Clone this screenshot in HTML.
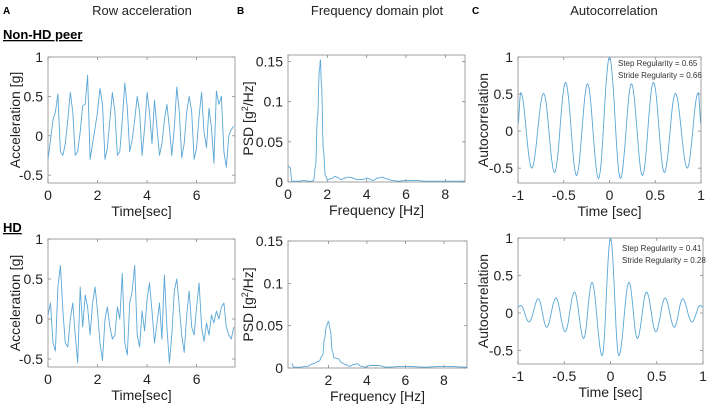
<!DOCTYPE html>
<html><head><meta charset="utf-8">
<style>
body{margin:0;background:#fff;}
svg{display:block;font-family:"Liberation Sans",Arial,sans-serif;}
</style></head>
<body>
<svg id="fig" width="708" height="404" viewBox="0 0 708 404">
<g>
<text x="3" y="14" font-size="10" font-weight="bold">A</text>
<text x="142" y="15" font-size="13" text-anchor="middle" fill="#222">Row acceleration</text>
<text x="237" y="14" font-size="10" font-weight="bold">B</text>
<text x="377" y="15" font-size="13" text-anchor="middle" fill="#222">Frequency domain plot</text>
<text x="472" y="14" font-size="10" font-weight="bold">C</text>
<text x="614" y="15" font-size="13" text-anchor="middle" fill="#222">Autocorrelation</text>
<text x="3" y="39" font-size="13" font-weight="bold" text-decoration="underline">Non-HD peer</text>
<text x="3" y="232" font-size="13" font-weight="bold" text-decoration="underline">HD</text>
</g>
</svg>
<script>
// ---- data ----
const accTopT = [0,0.1,0.2,0.3,0.4,0.5,0.6,0.7,0.8,0.9,1.0,1.1,1.2,1.3,1.4,1.5,1.6,1.7,1.8,1.9,2.0,2.1,2.2,2.3,2.4,2.5,2.6,2.7,2.8,2.9,3.0,3.1,3.2,3.3,3.4,3.5,3.6,3.7,3.8,3.9,4.0,4.1,4.2,4.3,4.4,4.5,4.6,4.7,4.8,4.9,5.0,5.1,5.2,5.3,5.4,5.5,5.6,5.7,5.8,5.9,6.0,6.1,6.2,6.3,6.4,6.5,6.6,6.7,6.8,6.9,7.0,7.1,7.2,7.3,7.4,7.5];
const accTopV = [-0.3,-0.05,0.2,0.3,0.53,-0.2,-0.25,-0.1,0.2,0.55,0.3,-0.25,-0.2,0.05,0.38,0.4,0.77,-0.3,-0.1,0.1,0.3,0.6,0.4,-0.3,-0.15,0.2,0.55,0.3,-0.25,-0.2,0.2,0.67,0.35,-0.2,-0.05,0.2,0.5,0.3,-0.25,0.1,0.55,0.3,-0.1,0.45,0.1,-0.25,-0.1,0.2,0.4,0.1,-0.25,0.1,0.62,0.3,-0.28,-0.1,0.3,0.5,0.3,-0.3,-0.15,0.25,0.55,0.05,-0.15,0.35,0.1,-0.35,0.57,0.4,0.5,-0.2,-0.4,0.0,0.08,0.12];
const accBotT = accTopT;
const accBotV = [0.05,0.2,-0.3,-0.4,0.4,0.67,0.1,-0.3,-0.35,0.0,0.2,-0.2,-0.55,0.4,-0.1,0.3,0.15,-0.2,0.2,0.4,0.1,-0.3,-0.52,0.0,0.15,-0.1,-0.25,-0.2,0.15,0.0,0.57,-0.3,-0.45,0.2,0.35,0.67,-0.2,-0.35,0.1,-0.15,0.25,0.45,0.1,-0.3,-0.05,0.2,-0.25,0.55,-0.1,-0.55,-0.2,0.35,0.5,0.15,-0.2,-0.42,0.05,0.35,-0.1,-0.2,0.15,0.45,-0.1,-0.28,-0.05,-0.2,0.05,-0.05,0.1,0.0,0.15,0.2,-0.1,-0.2,-0.25,-0.1];
const psdTopF = [0,0.1,0.2,0.4,0.6,0.8,1.0,1.2,1.3,1.4,1.5,1.6,1.65,1.7,1.8,1.9,2.0,2.2,2.4,2.5,2.7,2.9,3.1,3.3,3.5,3.8,4.0,4.1,4.3,4.6,4.8,5.0,5.3,5.6,6.0,6.5,7.0,7.5,8.0,8.5,9.0];
const psdTopV = [0.02,0.018,0.001,0.001,0.001,0.002,0.001,0.001,0.002,0.02,0.08,0.14,0.152,0.12,0.04,0.008,0.003,0.004,0.007,0.006,0.003,0.005,0.006,0.005,0.003,0.003,0.005,0.004,0.002,0.005,0.006,0.004,0.002,0.001,0.002,0.002,0.001,0.001,0.001,0.001,0.001];
const psdBotF = [0.1,0.2,0.5,0.9,1.2,1.5,1.7,1.8,1.9,2.0,2.1,2.2,2.3,2.5,2.7,2.9,3.1,3.3,3.5,3.7,3.9,4.2,4.6,5.0,6.0,7.0,8.0,9.2];
const psdBotV = [0.005,0.001,0.001,0.002,0.005,0.008,0.015,0.035,0.05,0.055,0.045,0.02,0.012,0.011,0.006,0.004,0.002,0.004,0.005,0.002,0.001,0.003,0.003,0.001,0.002,0.001,0.002,0.001];
const acTopLag = [-1,-0.97,-0.85,-0.72,-0.6,-0.48,-0.36,-0.24,-0.12,0,0.12,0.24,0.36,0.48,0.6,0.72,0.85,0.97,1];
const acTopV = [0.1,0.52,-0.5,0.51,-0.56,0.66,-0.6,0.64,-0.64,1,-0.64,0.64,-0.6,0.66,-0.56,0.51,-0.5,0.52,0.1];
const acBotLag = [-1,-0.97,-0.88,-0.78,-0.69,-0.59,-0.49,-0.39,-0.29,-0.2,-0.09,0,0.09,0.2,0.29,0.39,0.49,0.59,0.69,0.78,0.88,0.97,1];
const acBotV = [0.08,0.1,-0.12,0.19,-0.19,0.2,-0.25,0.28,-0.34,0.41,-0.57,1,-0.57,0.41,-0.34,0.28,-0.25,0.2,-0.19,0.19,-0.12,0.1,0.08];
const accYTicks = [-0.5,0,0.5,1];
const accYLabels = ["-0.5","0","0.5","1"];
const accXTicks = [0,2,4,6];
const psdYTicks = [0,0.05,0.1,0.15];
const psdYLabels = ["0","0.05","0.1","0.15"];
const psdTopXTicks = [0,2,4,6,8];
const psdBotXTicks = [2,4,6,8];
const acXTicks = [-1,-0.5,0,0.5,1];
const acXLabels = ["-1","-0.5","0","0.5","1"];

const NS='http://www.w3.org/2000/svg';
const svg=document.getElementById('fig');
function mk(tag,attrs,parent){const e=document.createElementNS(NS,tag);for(const k in attrs)e.setAttribute(k,attrs[k]);(parent||svg).appendChild(e);return e;}

function panel(o){
  const g=mk('g',{});
  
  
  const sx=v=>o.x0+(v-o.xmin)/(o.xmax-o.xmin)*(o.x1-o.x0);
  const sy=v=>o.y1-(v-o.ymin)/(o.ymax-o.ymin)*(o.y1-o.y0);
  const box=mk('rect',{x:o.x0,y:o.y0,width:o.x1-o.x0,height:o.y1-o.y0,fill:'#fff',stroke:'#8a8a8a','stroke-width':0.8},g);
  
  
  o.yt.forEach((v,i)=>{
    const y=sy(v);
    mk('line',{x1:o.x0,x2:o.x0+3,y1:y,y2:y,stroke:'#8a8a8a','stroke-width':0.8},g);
    mk('line',{x1:o.x1,x2:o.x1-3,y1:y,y2:y,stroke:'#8a8a8a','stroke-width':0.8},g);
    const t=mk('text',{x:o.x0-5,y:y+5,'font-size':14,'text-anchor':'end',fill:'#222'},g);
    t.textContent=o.yl[i];
    
    
  });
  o.xt.forEach((v,i)=>{
    const x=sx(v);
    mk('line',{x1:x,x2:x,y1:o.y1,y2:o.y1-3,stroke:'#8a8a8a','stroke-width':0.8},g);
    mk('line',{x1:x,x2:x,y1:o.y0,y2:o.y0+3,stroke:'#8a8a8a','stroke-width':0.8},g);
    const t=mk('text',{x:x,y:o.y1+17,'font-size':14,'text-anchor':'middle',fill:'#222'},g);
    t.textContent=o.xl?o.xl[i]:String(v);
    
    
  });
  const xl=mk('text',{x:(o.x0+o.x1)/2,y:o.y1+33,'font-size':14,'text-anchor':'middle',fill:'#222'},g);
  xl.textContent=o.xlabel;
  
  
  const yl=mk('text',{x:0,y:0,'font-size':o.ylfs||14,'text-anchor':'middle',fill:'#222',transform:`translate(${o.ylx},${(o.y0+o.y1)/2}) rotate(-90)`},g);
  yl.innerHTML=o.ylabel;
  
  
  // series
  let pts=[];
  if(o.smooth){
    for(let i=0;i<o.xs.length-1;i++){
      const xa=o.xs[i],xb=o.xs[i+1],va=o.ys[i],vb=o.ys[i+1];
      for(let k=0;k<12;k++){const f=k/12;const w=(1-Math.cos(Math.PI*f))/2;pts.push([sx(xa+(xb-xa)*f),sy(va+(vb-va)*w)]);}
    }
    pts.push([sx(o.xs[o.xs.length-1]),sy(o.ys[o.ys.length-1])]);
  } else pts=o.xs.map((x,i)=>[sx(x),sy(o.ys[i])]);
  const p=mk('polyline',{points:pts.map(q=>q[0].toFixed(1)+','+q[1].toFixed(1)).join(' '),fill:'none',stroke:'#5aa7d6','stroke-width':0.9,'stroke-linejoin':'round'},g);
  
  
  if(o.notes){o.notes.forEach((n,i)=>{
    const t=mk('text',{x:o.nx,y:o.ny+i*12,'font-size':8,fill:'#333'},g);t.textContent=n;
    
    
  });}
}

panel({name:'acc-non-hd',x0:48,x1:235,y0:57,y1:183,xmin:0,xmax:7.55,ymin:-0.6,ymax:1,xs:accTopT,ys:accTopV,yt:accYTicks,yl:accYLabels,xt:accXTicks,xlabel:'Time[sec]',ylabel:'Acceleration [g]',ylx:20});
panel({name:'psd-non-hd',x0:288,x1:465,y0:55,y1:182,xmin:0,xmax:9,ymin:0,ymax:0.158,xs:psdTopF,ys:psdTopV,yt:psdYTicks,yl:psdYLabels,xt:psdTopXTicks,xlabel:'Frequency [Hz]',ylabel:'PSD [g<tspan dy="-5" font-size="9">2</tspan><tspan dy="5">/Hz]</tspan>',ylx:253,smooth:true});
panel({name:'autocorr-non-hd',x0:518,x1:701,y0:57,y1:183,xmin:-1,xmax:1,ymin:-0.7,ymax:1,xs:acTopLag,ys:acTopV,yt:accYTicks,yl:accYLabels,xt:acXTicks,xl:acXLabels,xlabel:'Time [sec]',ylabel:'Autocorrelation',ylx:488,smooth:true,notes:['Step Regularity = 0.65','Stride Regularity = 0.66'],nx:618,ny:66});
panel({name:'acc-hd',x0:48,x1:235,y0:239,y1:367,xmin:0,xmax:7.55,ymin:-0.6,ymax:1,xs:accBotT,ys:accBotV,yt:accYTicks,yl:accYLabels,xt:accXTicks,xlabel:'Time[sec]',ylabel:'Acceleration [g]',ylx:20});
panel({name:'psd-hd',x0:288,x1:467,y0:241,y1:368,xmin:-0.1,xmax:9.2,ymin:0,ymax:0.15,xs:psdBotF,ys:psdBotV,yt:psdYTicks,yl:psdYLabels,xt:psdBotXTicks,xlabel:'Frequency [Hz]',ylabel:'PSD [g<tspan dy="-5" font-size="9">2</tspan><tspan dy="5">/Hz]</tspan>',ylx:253,smooth:true});
panel({name:'autocorr-hd',x0:518,x1:703,y0:238,y1:364,xmin:-1,xmax:1,ymin:-0.68,ymax:1,xs:acBotLag,ys:acBotV,yt:accYTicks,yl:accYLabels,xt:acXTicks,xl:acXLabels,xlabel:'Time [sec]',ylabel:'Autocorrelation',ylx:488,smooth:true,notes:['Step Regularity = 0.41','Stride Regularity = 0.28'],nx:622,ny:251});
</script>
</body></html>
